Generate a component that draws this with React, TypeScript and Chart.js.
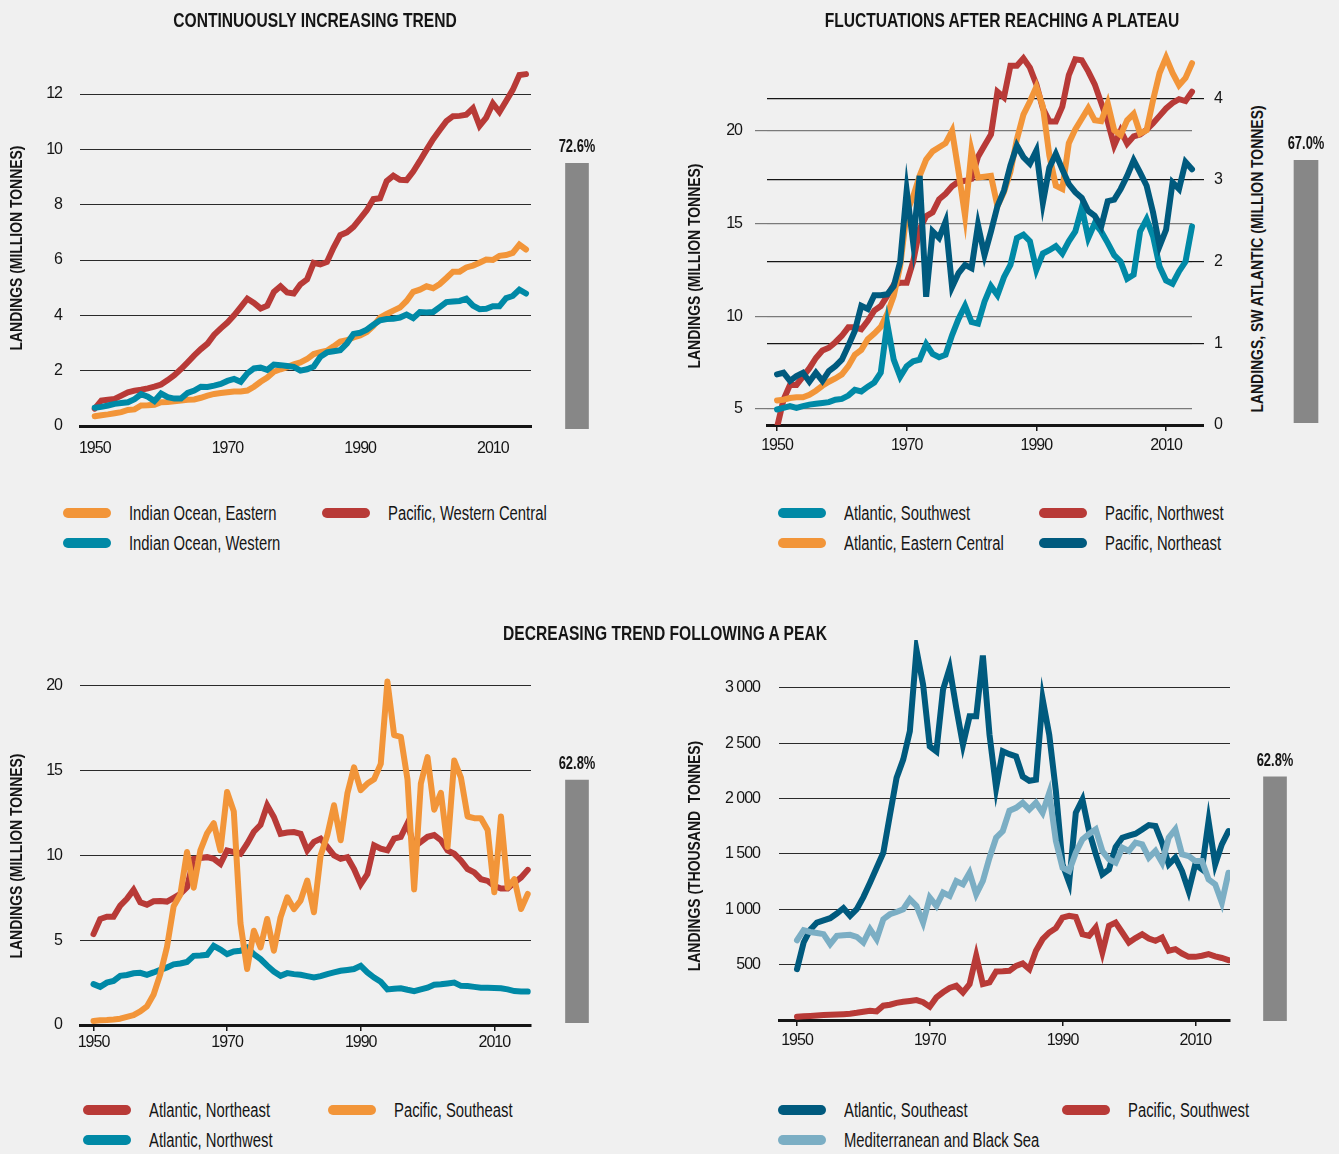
import React, { useEffect, useRef } from 'react';
import { Chart, registerables } from 'chart.js';

Chart.register(...registerables);

document.body.style.margin = '0';
document.body.style.background = '#f0f0f0';

const FONT = "'Liberation Sans', Arial, sans-serif";
const INK = '#151515';
const ORANGE = '#F29539';
const RED = '#B83A37';
const TEAL = '#0089A6';
const NAVY = '#005A7E';
const LIGHTBLUE = '#7BAEC4';
const GREY = '#878787';

const years = Array.from({ length: 66 }, (_, i) => 1950 + i);
const xTickYears = [1950, 1970, 1990, 2010];

// ---- Continuously increasing trend (million tonnes)
const indianOceanEastern = [0.35,0.39,0.42,0.46,0.5,0.58,0.6,0.74,0.75,0.77, 0.86,0.87,0.89,0.92,0.95,0.96,1.02,1.1,1.16,1.19, 1.22,1.25,1.25,1.28,1.42,1.6,1.75,1.96,2.05,2.13, 2.23,2.3,2.42,2.6,2.67,2.72,2.88,3.05,3.1,3.2, 3.27,3.4,3.62,3.92,4.05,4.17,4.28,4.52,4.85,4.93, 5.05,4.98,5.13,5.35,5.58,5.58,5.73,5.8,5.9,6.02, 6.0,6.15,6.18,6.26,6.56,6.38];
const pacificWesternCentral = [0.63,0.92,0.95,0.98,1.1,1.22,1.28,1.31,1.36,1.42, 1.5,1.66,1.84,2.06,2.3,2.55,2.78,2.98,3.3,3.53, 3.74,4.0,4.3,4.6,4.45,4.25,4.35,4.85,5.05,4.83, 4.79,5.12,5.3,5.9,5.84,5.93,6.45,6.9,7.0,7.2, 7.5,7.8,8.2,8.23,8.85,9.05,8.9,8.89,9.2,9.58, 9.98,10.37,10.7,11.02,11.2,11.21,11.25,11.48,10.85,11.15, 11.66,11.35,11.75,12.15,12.69,12.72];
const indianOceanWestern = [0.66,0.69,0.74,0.8,0.83,0.86,0.97,1.15,1.06,0.9, 1.17,1.04,0.99,0.99,1.2,1.28,1.42,1.41,1.46,1.52, 1.63,1.7,1.6,1.9,2.08,2.11,2.03,2.22,2.2,2.17, 2.14,2.0,2.05,2.15,2.5,2.66,2.7,2.74,2.98,3.33, 3.37,3.48,3.66,3.82,3.87,3.88,3.92,4.03,3.9,4.12, 4.1,4.12,4.3,4.48,4.5,4.52,4.6,4.35,4.22,4.24, 4.33,4.33,4.62,4.7,4.93,4.79];

// ---- Fluctuations after reaching a plateau
const pacificNorthwest = [4.0,5.5,6.3,6.3,6.75,7.2,7.75,8.15,8.3,8.6, 8.95,9.4,9.4,9.3,9.75,10.3,10.55,11.1,11.7,11.8, 11.8,12.95,14.7,15.4,15.6,16.3,16.6,17.0,17.25,17.3, 17.4,18.6,19.2,19.8,22.1,21.8,23.5,23.5,23.9,23.4, 22.5,21.2,20.5,20.5,21.3,23.0,23.85,23.8,23.2,22.5, 21.5,20.5,19.2,20.0,19.3,19.7,19.8,20.05,20.4,20.8, 21.2,21.5,21.7,21.6,22.1,22.3];
const atlanticEasternCentral = [0.30,0.31,0.33,0.34,0.34,0.37,0.42,0.48,0.53,0.57, 0.62,0.72,0.86,0.92,1.05,1.12,1.2,1.36,1.58,1.95, 2.6,2.8,3.05,3.25,3.35,3.4,3.45,3.6,3.1,2.56, 3.36,3.03,3.04,3.05,2.68,2.85,3.1,3.5,3.8,3.96, 4.14,3.9,3.3,2.93,2.89,3.45,3.62,3.75,3.88,3.73, 3.72,3.94,3.61,3.55,3.73,3.81,3.57,3.61,3.98,4.31, 4.5,4.31,4.16,4.25,4.43,4.35];
const pacificNortheast = [0.62,0.64,0.54,0.6,0.64,0.53,0.64,0.54,0.66,0.72, 0.8,0.97,1.15,1.46,1.42,1.59,1.59,1.6,1.7,2.0, 2.87,2.23,3.05,1.57,2.37,2.29,2.49,1.69,1.86,1.96, 1.92,2.45,2.08,2.37,2.68,2.87,3.18,3.42,3.28,3.2, 3.36,2.72,3.15,3.32,3.13,2.95,2.85,2.78,2.62,2.56, 2.43,2.74,2.76,2.89,3.05,3.24,3.09,2.93,2.6,2.19, 2.39,2.97,2.89,3.22,3.13,3.13];
const atlanticSouthwest = [0.19,0.21,0.23,0.21,0.23,0.25,0.26,0.27,0.28,0.31, 0.32,0.36,0.43,0.41,0.47,0.52,0.64,1.24,0.8,0.59, 0.72,0.78,0.8,0.99,0.87,0.83,0.86,1.1,1.3,1.46, 1.26,1.24,1.51,1.7,1.59,1.81,1.96,2.29,2.33,2.25, 1.9,2.1,2.14,2.19,2.1,2.25,2.37,2.66,2.29,2.47, 2.37,2.23,2.08,2.0,1.79,1.84,2.37,2.52,2.31,1.94, 1.77,1.73,1.88,2.0,2.43,2.43];

// ---- Decreasing trend following a peak (million tonnes)
const atlanticNortheast = [5.36,6.25,6.39,6.39,7.04,7.44,7.97,7.24,7.1,7.3, 7.32,7.28,7.5,7.73,8.13,9.8,9.85,9.9,9.8,9.5, 10.3,10.2,10.1,10.7,11.4,11.8,12.96,12.27,11.28,11.35, 11.38,11.28,10.3,10.8,10.99,10.5,10.0,9.8,9.9,9.2, 8.3,8.9,10.6,10.4,10.3,11.0,11.1,11.9,10.5,10.8, 11.1,11.2,10.9,10.3,10.1,9.7,9.2,9.0,8.6,8.5, 8.2,8.05,8.05,8.4,8.7,9.15];
const pacificSoutheast = [0.24,0.28,0.3,0.33,0.37,0.48,0.58,0.8,1.1,1.8, 3.0,4.6,7.0,7.7,10.2,8.1,10.3,11.3,11.9,10.3, 13.75,12.6,6.0,3.3,5.56,4.58,6.25,4.38,6.35,7.53, 6.84,7.34,8.52,6.65,10.0,11.2,12.96,10.9,13.65,15.2, 13.85,14.24,14.5,15.4,20.26,17.1,17.0,14.5,8.0,14.24, 15.8,12.7,13.7,10.5,15.6,14.6,12.3,12.2,12.2,11.5, 7.83,12.3,8.1,8.6,6.84,7.73];
const atlanticNorthwest = [2.41,2.25,2.5,2.6,2.9,2.95,3.05,3.08,2.96,3.1, 3.25,3.4,3.58,3.63,3.72,4.08,4.1,4.14,4.67,4.45, 4.18,4.34,4.38,4.57,4.18,3.89,3.5,3.15,2.9,3.06, 3.0,2.96,2.88,2.8,2.88,3.0,3.1,3.2,3.25,3.3, 3.49,3.1,2.8,2.55,2.1,2.14,2.17,2.08,2.0,2.1, 2.2,2.37,2.4,2.45,2.5,2.31,2.3,2.25,2.2,2.19, 2.18,2.17,2.1,2.0,1.98,1.97];

// ---- Decreasing trend following a peak (thousand tonnes)
const atlanticSoutheast = [459,700,815,880,900,919,961,1009,940,1000, 1110,1240,1375,1510,1850,2186,2351,2607,3342,3027, 2471,2426,2982,3177,2817,2486,2742,2742,3290,2577, 2096,2426,2400,2380,2199,2160,2170,2900,2577,2066, 1405,1240,1871,1991,1706,1500,1315,1360,1562,1646, 1665,1682,1720,1760,1751,1600,1405,1466,1345,1165, 1405,1360,1796,1405,1586,1706];
const mediterraneanBlackSea = [720,811,795,785,775,685,760,765,769,751, 700,820,730,910,955,975,1000,1090,1030,880, 1105,1030,1150,1120,1255,1225,1330,1135,1255,1465, 1646,1706,1890,1916,1961,1901,1961,1871,2051,1616, 1375,1345,1511,1631,1680,1721,1526,1450,1420,1556, 1526,1601,1586,1466,1526,1420,1646,1721,1496,1481, 1435,1435,1270,1225,1060,1330];
const pacificSouthwest = [30,33,37,41,45,48,50,53,57,65, 75,84,78,129,138,155,165,172,180,160, 120,204,250,290,309,249,324,580,324,339, 438,440,444,489,510,459,625,730,790,829, 925,940,930,775,760,835,610,850,880,790, 700,740,775,735,715,745,625,640,600,570, 570,580,595,575,560,540];

// tick values
const ticksIncreasing = [0, 2, 4, 6, 8, 10, 12];
const ticksPlateauLeft = [5, 10, 15, 20];
const ticksPlateauRight = [0, 1, 2, 3, 4];
const ticksDecreasing = [0, 5, 10, 15, 20];
const ticksDecreasingThousand = [0, 500, 1000, 1500, 2000, 2500, 3000];

// share bars
const shareValues = [72.6, 67.0, 62.8, 62.8];

const line = (label: string, values: number[], color: string, yAxisID = 'y', clip?: any, join = 'miter') => ({
  label,
  data: years.map((x, i) => ({ x, y: values[i] })),
  borderColor: color,
  backgroundColor: color,
  borderWidth: 6,
  pointRadius: 0,
  tension: 0,
  borderCapStyle: 'round',
  borderJoinStyle: join,
  fill: false,
  yAxisID,
  ...(clip !== undefined ? { clip } : {}),
});

const tickFont = { family: FONT, size: 16 };

const xScale = (min: number, max: number, tickLen: number, pad: number, height: number) => ({
  type: 'linear',
  min,
  max,
  afterBuildTicks: (s: any) => { s.ticks = xTickYears.map((v) => ({ value: v })); },
  afterFit: (s: any) => { s.height = height; },
  ticks: { callback: (v: any) => String(v), font: tickFont, color: INK, padding: pad, maxRotation: 0, minRotation: 0, autoSkip: false },
  grid: tickLen > 0
    ? { display: true, drawOnChartArea: false, drawTicks: true, tickLength: tickLen, color: INK, lineWidth: 1.5 }
    : { display: false },
  border: { display: true, color: INK, width: 3 },
});

const yScale = (min: number, max: number, ticks: number[], width: number, pad: number, extra: any = {}) => ({
  type: 'linear',
  position: 'left',
  min,
  max,
  afterBuildTicks: (s: any) => { s.ticks = ticks.map((v) => ({ value: v })); },
  afterFit: (s: any) => { s.width = width; },
  ticks: { callback: (v: any) => String(v), font: tickFont, color: INK, padding: pad },
  grid: { color: '#2a2a2a', lineWidth: 1, drawTicks: false },
  border: { display: false },
  ...extra,
});

// condensed look for the library-drawn tick labels
const condensePlugin = {
  id: 'condense',
  beforeDraw(chart: any) {
    (chart.ctx as any).letterSpacing = '-1px';
  },
};

const baseOptions = (padding: any, scales: any) => ({
  responsive: false,
  maintainAspectRatio: false,
  animation: false,
  layout: { padding },
  plugins: { legend: { display: false }, tooltip: { enabled: false }, title: { display: false } },
  scales,
});

const thousands = (v: number) => (v === 0 ? '' : v >= 1000 ? `${Math.floor(v / 1000)} ${String(v % 1000).padStart(3, '0')}` : String(v));

const configIncreasing = () => ({
  type: 'line',
  data: {
    datasets: [
      line('Indian Ocean, Western', indianOceanWestern, TEAL),
      line('Indian Ocean, Eastern', indianOceanEastern, ORANGE),
      line('Pacific, Western Central', pacificWesternCentral, RED),
    ],
  },
  options: baseOptions({ left: 0, top: 60, right: 14, bottom: 0 }, {
    x: xScale(1947.78, 2015.75, 0, 5, 44),
    y: yScale(0, 13.23, ticksIncreasing, 80, 18),
  }),
  plugins: [condensePlugin],
});

const plateauClip = { left: 8, top: 8, right: 12, bottom: 0 };
const configPlateau = () => ({
  type: 'line',
  data: {
    datasets: [
      line('Pacific, Northeast', pacificNortheast, NAVY, 'y1', plateauClip),
      line('Atlantic, Southwest', atlanticSouthwest, TEAL, 'y1', plateauClip),
      line('Atlantic, Eastern Central', atlanticEasternCentral, ORANGE, 'y1', plateauClip),
      line('Pacific, Northwest', pacificNorthwest, RED, 'y', plateauClip),
    ],
  },
  options: baseOptions({ left: 0, top: 55, right: 0, bottom: 0 }, {
    x: xScale(1948.458, 2014.0, 6, 5, 45),
    y: yScale(4.138, 24.08, ticksPlateauLeft, 87, 13, {
      grid: { color: '#7a7a7a', lineWidth: 1.2, drawTicks: true, tickLength: 12 },
    }),
    y1: yScale(0, 4.53, ticksPlateauRight, 48, 10, {
      position: 'right',
      grid: {
        color: INK,
        lineWidth: (c: any) => (c.tick && c.tick.value === 0 ? 3 : 1.2),
        drawTicks: true,
        tickLength: 12,
      },
    }),
  }),
  plugins: [condensePlugin],
});

const configDecreasing = () => ({
  type: 'line',
  data: {
    datasets: [
      line('Pacific, Southeast', pacificSoutheast, ORANGE, 'y', undefined, 'round'),
      line('Atlantic, Northeast', atlanticNortheast, RED),
      line('Atlantic, Northwest', atlanticNorthwest, TEAL),
    ],
  },
  options: baseOptions({ left: 0, top: 70, right: 14, bottom: 0 }, {
    x: xScale(1947.98, 2015.49, 6, 2, 45),
    y: yScale(0, 20.94, ticksDecreasing, 80, 18),
  }),
  plugins: [condensePlugin],
});

const configDecreasingThousand = () => ({
  type: 'line',
  data: {
    datasets: [
      line('Mediterranean and Black Sea', mediterraneanBlackSea, LIGHTBLUE),
      line('Atlantic, Southeast', atlanticSoutheast, NAVY),
      line('Pacific, Southwest', pacificSouthwest, RED),
    ],
  },
  options: baseOptions({ left: 0, top: 40, right: 10, bottom: 0 }, {
    x: xScale(1947.29, 2015.23, 6, 5, 50),
    y: yScale(0, 3431, ticksDecreasingThousand, 99, 19, {
      ticks: { callback: (v: any) => thousands(Number(v)), font: tickFont, color: INK, padding: 19 },
    }),
  }),
  plugins: [condensePlugin],
});

const shareLabelPlugin = {
  id: 'shareLabel',
  afterDatasetsDraw(chart: any) {
    const meta = chart.getDatasetMeta(0);
    const bar = meta.data[0];
    const value = chart.data.datasets[0].data[0];
    const ctx = chart.ctx;
    ctx.save();
    ctx.translate(bar.x, bar.y - 16);
    ctx.scale(0.72, 1);
    ctx.font = `bold 18px ${FONT}`;
    ctx.fillStyle = INK;
    ctx.textAlign = 'center';
    ctx.textBaseline = 'middle';
    ctx.fillText(`${Number(value).toFixed(1)}%`, 0, 0);
    ctx.restore();
  },
};

const configShare = (value: number, thickness: number) => ({
  type: 'bar',
  data: { labels: ['share'], datasets: [{ data: [value], backgroundColor: GREY, barThickness: thickness }] },
  options: {
    responsive: false,
    maintainAspectRatio: false,
    animation: false,
    layout: { padding: 0 },
    plugins: { legend: { display: false }, tooltip: { enabled: false } },
    scales: { x: { display: false }, y: { display: false, min: 0, max: 100 } },
  },
  plugins: [shareLabelPlugin],
});

function ChartCanvas({ make, left, top, width, height }: any) {
  const ref = useRef<HTMLCanvasElement>(null);
  useEffect(() => {
    const chart = new Chart(ref.current as HTMLCanvasElement, make());
    return () => chart.destroy();
  }, []);
  return (
    <canvas
      ref={ref}
      width={width}
      height={height}
      style={{ position: 'absolute', left, top, width, height }}
    />
  );
}

const legendItems = [
  { label: 'Indian Ocean, Eastern', color: ORANGE, x: 63, y: 513 },
  { label: 'Pacific, Western Central', color: RED, x: 322, y: 513 },
  { label: 'Indian Ocean, Western', color: TEAL, x: 63, y: 543 },
  { label: 'Atlantic, Southwest', color: TEAL, x: 778, y: 513 },
  { label: 'Pacific, Northwest', color: RED, x: 1039, y: 513 },
  { label: 'Atlantic, Eastern Central', color: ORANGE, x: 778, y: 543 },
  { label: 'Pacific, Northeast', color: NAVY, x: 1039, y: 543 },
  { label: 'Atlantic, Northeast', color: RED, x: 83, y: 1110 },
  { label: 'Pacific, Southeast', color: ORANGE, x: 328, y: 1110 },
  { label: 'Atlantic, Northwest', color: TEAL, x: 83, y: 1140 },
  { label: 'Atlantic, Southeast', color: NAVY, x: 778, y: 1110 },
  { label: 'Pacific, Southwest', color: RED, x: 1062, y: 1110 },
  { label: 'Mediterranean and Black Sea', color: LIGHTBLUE, x: 778, y: 1140 },
];

const titles = [
  { text: 'CONTINUOUSLY INCREASING TREND', x: 315, y: 20 },
  { text: 'FLUCTUATIONS AFTER REACHING A PLATEAU', x: 1002, y: 20 },
  { text: 'DECREASING TREND FOLLOWING A PEAK', x: 665, y: 633 },
];

const axisTitles = [
  { text: 'LANDINGS (MILLION TONNES)', x: 17, y: 248 },
  { text: 'LANDINGS (MILLION TONNES)', x: 695, y: 266 },
  { text: 'LANDINGS, SW ATLANTIC (MILLION TONNES)', x: 1258, y: 259 },
  { text: 'LANDINGS (MILLION TONNES)', x: 17, y: 856 },
  { text: 'LANDINGS (THOUSAND\u00a0 TONNES)', x: 695, y: 856 },
];

export default function App() {
  return (
    <div style={{ position: 'relative', width: 1339, height: 1154, background: '#f0f0f0', overflow: 'hidden', fontFamily: FONT, color: INK }}>
      <ChartCanvas make={configIncreasing} left={0} top={0} width={545} height={470} />
      <ChartCanvas make={configPlateau} left={680} top={0} width={560} height={470} />
      <ChartCanvas make={configDecreasing} left={0} top={600} width={545} height={470} />
      <ChartCanvas make={configDecreasingThousand} left={680} top={600} width={560} height={470} />

      <ChartCanvas make={() => configShare(shareValues[0], 23)} left={542} top={63} width={70} height={366} />
      <ChartCanvas make={() => configShare(shareValues[1], 24)} left={1271} top={31} width={70} height={392} />
      <ChartCanvas make={() => configShare(shareValues[2], 23)} left={542} top={636} width={70} height={387} />
      <ChartCanvas make={() => configShare(shareValues[3], 23)} left={1240} top={632} width={70} height={389} />

      {titles.map((t, i) => (
        <div key={'t' + i} style={{ position: 'absolute', left: t.x, top: t.y, transform: 'translate(-50%, -50%) scaleX(0.78)', fontWeight: 'bold', fontSize: 20, lineHeight: '24px', whiteSpace: 'nowrap' }}>
          {t.text}
        </div>
      ))}
      {axisTitles.map((t, i) => (
        <div key={'a' + i} style={{ position: 'absolute', left: t.x, top: t.y, transform: 'translate(-50%, -50%) rotate(-90deg) scaleX(0.82)', fontWeight: 'bold', fontSize: 17, lineHeight: '20px', whiteSpace: 'nowrap' }}>
          {t.text}
        </div>
      ))}
      {legendItems.map((l, i) => (
        <React.Fragment key={'l' + i}>
          <div style={{ position: 'absolute', left: l.x, top: l.y - 5, width: 48, height: 10, borderRadius: 5, background: l.color }} />
          <div style={{ position: 'absolute', left: l.x + 66, top: l.y - 12, height: 24, lineHeight: '24px', fontSize: 19.5, whiteSpace: 'nowrap', transform: 'scaleX(0.76)', transformOrigin: 'left center' }}>
            {l.label}
          </div>
        </React.Fragment>
      ))}
    </div>
  );
}
